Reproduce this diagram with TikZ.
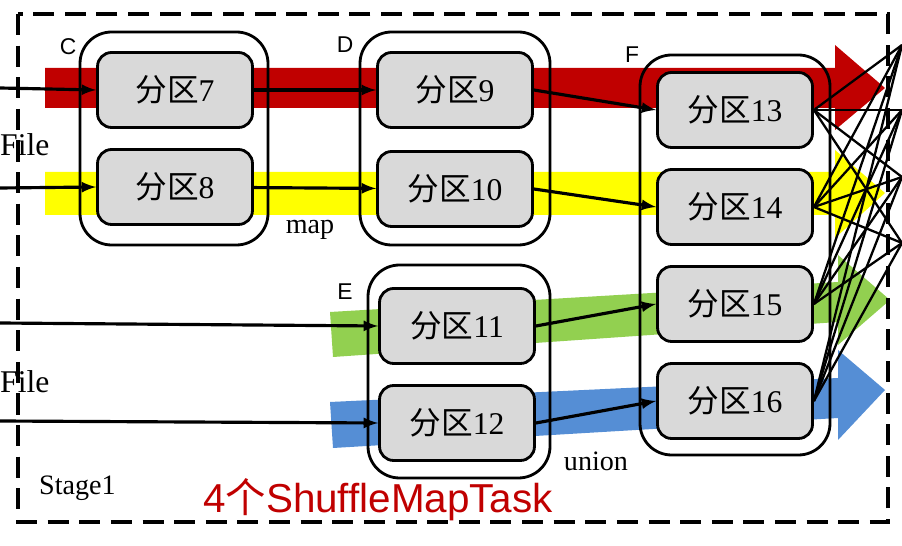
\documentclass[tikz,border=0pt]{standalone}
\usepackage{fontspec}
\setmainfont{Liberation Serif}
\setsansfont{Liberation Sans}
\newfontfamily\cjk{Noto Sans CJK SC}
\usetikzlibrary{positioning}
\definecolor{bandred}{RGB}{192,0,0}
\definecolor{bandyellow}{RGB}{255,255,0}
\definecolor{bandgreen}{RGB}{146,208,80}
\definecolor{bandblue}{RGB}{85,142,213}
\tikzset{
  part/.style={draw, line width=1.6pt, rounded corners=8pt, fill=gray!30,
    minimum width=3.1cm, minimum height=1.5cm, font=\fontsize{18}{18}\selectfont},
  group/.style={draw, line width=1.6pt, rounded corners=18pt},
  flow/.style={line width=1.8pt, ->, >=latex},
  fan/.style={line width=1.3pt},
  tag/.style={font=\sffamily\fontsize{13}{13}\selectfont}
}
\newcommand{\fq}[1]{{\cjk 分区}#1}
\begin{document}
\begin{tikzpicture}[x=0.02cm, y=-0.02cm]
  \useasboundingbox (0,0) rectangle (902,546);
  % bands
  \fill[bandred] (45,68) -- (835,68) -- (835,45) -- (885,88) -- (835,130) -- (835,108) -- (45,108) -- cycle;
  \fill[bandyellow] (45,172) -- (835,172) -- (835,150) -- (885,193) -- (835,238) -- (835,215) -- (45,215) -- cycle;
  \fill[bandgreen] (330,312) -- (838,282) -- (838,255) -- (890,300) -- (838,345) -- (838,322) -- (333,357) -- cycle;
  \fill[bandblue] (330,402) -- (838,378) -- (838,350) -- (885,390) -- (838,440) -- (838,418) -- (333,448) -- cycle;
  % stage border
  \draw[line width=2pt, dash pattern=on 12pt off 6pt] (18,14) rectangle (888,522);
  % groups
  \draw[group] (80,32) rectangle (268,245);
  \draw[group] (360,32) rectangle (550,245);
  \draw[group] (368,265) rectangle (550,478);
  \draw[group] (640,55) rectangle (830,455);
  \node[tag] at (68,47) {C};
  \node[tag] at (345,45) {D};
  \node[tag] at (345,292) {E};
  \node[tag] at (632,55) {F};
  % partitions
  \node[part] (p7) at (175,90) {\fq{7}};
  \node[part] (p8) at (175,187) {\fq{8}};
  \node[part] (p9) at (455,90) {\fq{9}};
  \node[part] (p10) at (455,189) {\fq{10}};
  \node[part] (p11) at (457,326) {\fq{11}};
  \node[part] (p12) at (457,423) {\fq{12}};
  \node[part] (p13) at (735,110) {\fq{13}};
  \node[part] (p14) at (735,207) {\fq{14}};
  \node[part] (p15) at (735,304) {\fq{15}};
  \node[part] (p16) at (735,401) {\fq{16}};
  % inputs
  \coordinate (in1) at (0,88);
  \coordinate (in2) at (0,188);
  \coordinate (in3) at (0,323);
  \coordinate (in4) at (0,421);
  \draw[flow] (in1) -- (p7.west);
  \draw[flow] (in2) -- (p8.west);
  \draw[flow] (in3) -- (p11.west);
  \draw[flow] (in4) -- (p12.west);
  \draw[flow] (p7) -- (p9);
  \draw[flow] (p8) -- (p10);
  \draw[flow] (p9.east) -- (p13.west);
  \draw[flow] (p10.east) -- (p14.west);
  \draw[flow] (p11.east) -- (p15.west);
  \draw[flow] (p12.east) -- (p16.west);
  % shuffle outputs
  \coordinate (o1) at (902,45);
  \coordinate (o2) at (902,110);
  \coordinate (o3) at (902,177);
  \coordinate (o4) at (902,243);
  \foreach \s in {p13,p14,p15,p16}
    \foreach \t in {o1,o2,o3,o4}
      \draw[fan] (\s.east) -- (\t);
  % texts
  \node[font=\fontsize{18}{18}\selectfont, anchor=west] at (-6,145) {File};
  \node[font=\fontsize{18}{18}\selectfont, anchor=west] at (-6,382) {File};
  \node[font=\fontsize{16}{16}\selectfont] at (310,230) {map};
  \node[font=\fontsize{16}{16}\selectfont] at (596,461) {union};
  \node[font=\fontsize{16}{16}\selectfont, anchor=west] at (33,488) {Stage1};
  \node[text=bandred, font=\sffamily\fontsize{23}{23}\selectfont] at (378,500) {4{\cjk 个}ShuffleMapTask};
\end{tikzpicture}
\end{document}
